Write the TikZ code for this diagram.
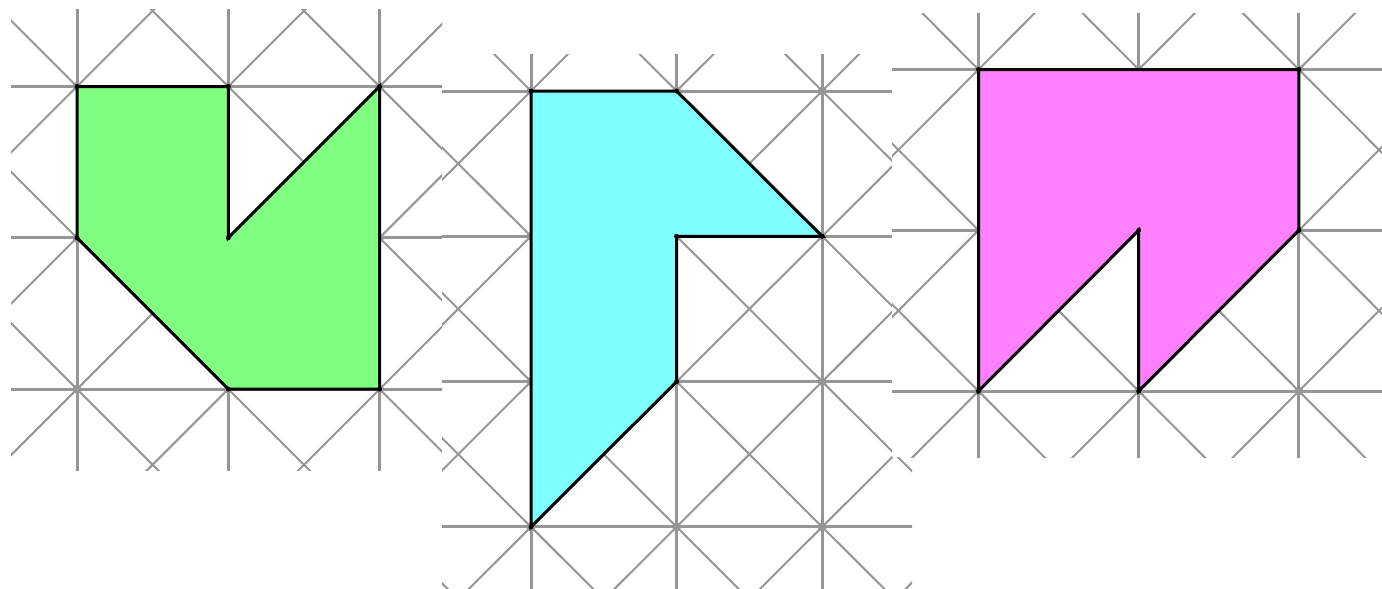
\documentclass[tikz,border=0pt]{standalone}
\usepackage{tikz}
\definecolor{gridgray}{RGB}{150,150,150}
\definecolor{mint}{RGB}{128,255,128}
\definecolor{aqua}{RGB}{128,255,255}
\definecolor{pink}{RGB}{255,128,255}
\begin{document}
\begin{tikzpicture}[x=1pt,y=-1pt]

		\tikzset{gridline/.style={draw=gridgray,line width=3pt}}
		\tikzset{diagline/.style={draw=gridgray,line width=2pt}}
		\tikzset{outline/.style={draw=black,line width=3pt,line join=miter}}
		\tikzset{vertex/.style={fill=black}}

		% Lattice: cols/rows of dots
		\tikzset{pics/lattice/.style args={#1/#2}{code={%
							\foreach \k in {-1,...,5} {
								\draw[gridline] (\k,-2) -- (\k,6);
								\draw[gridline] (-2,\k) -- (6,\k);
							}
							\foreach \k in {-5,...,8} {
								\draw[diagline] (\k-3,-3) -- (\k+5,5);
								\draw[diagline] (\k+3,-3) -- (\k-5,5);
							}
							\foreach \i in {0,...,#1}
								\foreach \j in {0,...,#2}
									\fill[gridgray] (\i,\j) circle (4.5pt);
						}}}

		\useasboundingbox (0,0) rectangle (1382,589);

		% left panel
		\begin{scope}
			\clip (11,9) rectangle (442,470);
			\begin{scope}[shift={(77,86.5)},x=151.3pt,y=-151.3pt]
				\pic {lattice=2/2};
				\draw[outline,fill=mint] (0,0) -- (1,0) -- (1,1) -- (2,0) -- (2,2) -- (1,2) -- (0,1) -- cycle;
				\foreach \p in {(0,0),(1,0),(1,1),(2,0),(2,2),(1,2),(0,1)}
					\fill[vertex] \p circle (2.5pt);
			\end{scope}
		\end{scope}

		% middle panel
		\begin{scope}
			\clip (442,54) rectangle (912,589);
			\begin{scope}[shift={(531,91)},x=145.6pt,y=-145.3pt]
				\pic {lattice=2/3};
				\draw[outline,fill=aqua] (0,0) -- (1,0) -- (2,1) -- (1,1) -- (1,2) -- (0,3) -- cycle;
				\foreach \p in {(0,0),(1,0),(2,1),(1,1),(1,2),(0,3)}
					\fill[vertex] \p circle (2.5pt);
			\end{scope}
		\end{scope}

		% right panel
		\begin{scope}
			\fill[white] (892,13) rectangle (1382,457);
			\clip (892,13) rectangle (1382,457);
			\begin{scope}[shift={(978.5,69.5)},x=160.2pt,y=-160.8pt]
				\pic {lattice=2/2};
				\draw[outline,fill=pink] (0,0) -- (2,0) -- (2,1) -- (1,2) -- (1,1) -- (0,2) -- cycle;
				\foreach \p in {(0,0),(2,0),(2,1),(1,2),(1,1),(0,2)}
					\fill[vertex] \p circle (2.5pt);
			\end{scope}
		\end{scope}

	\end{tikzpicture}
\end{document}
